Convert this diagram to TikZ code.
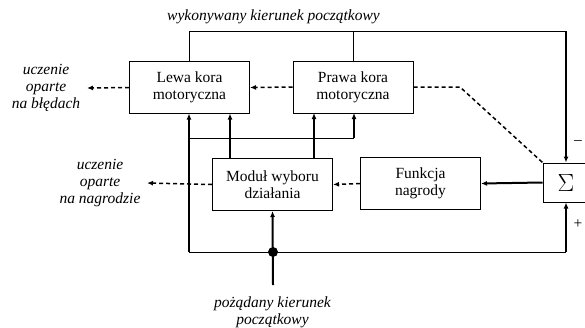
\documentclass[tikz,border=0pt]{standalone}
\usepackage{fontspec}
\setmainfont{Liberation Serif}
\usetikzlibrary{arrows.meta}
\begin{document}
\begin{tikzpicture}[x=1pt,y=-1pt,
  font=\fontsize{15.5}{17}\selectfont,
  blk/.style={draw,line width=1pt,minimum width=120pt,minimum height=52pt,align=center,inner sep=1pt},
  lbl/.style={font=\fontsize{15.5}{17}\itshape,align=center,inner sep=0pt},
  thin/.style={line width=1pt},
  thick/.style={line width=2pt},
  arr/.style={-{Latex[length=6pt,width=5pt]}},
  dsh/.style={line width=1.5pt,dash pattern=on 4pt off 3pt,-{Latex[length=6pt,width=5pt]}}]
\useasboundingbox (0,0) rectangle (585,327);

\node[blk] (lewa) at (189.5,87.5) {Lewa kora\\motoryczna};
\node[blk] (prawa) at (353,87) {Prawa kora\\motoryczna};
\node[blk] (modul) at (272.5,184.5) {Moduł wyboru\\działania};
\node[blk] (funk) at (420.5,183.5) {Funkcja\\nagrody};
\node[draw,line width=1pt,minimum width=46pt,minimum height=39pt,inner sep=0pt,font=\fontsize{26}{28}\selectfont] (sum) at (566,182.5) {$\Sigma$};

\node[lbl] (ltop) at (273.5,17) {wykonywany kierunek początkowy};
\node[lbl] (lerr) at (46,88) {uczenie\\oparte\\na błędach};
\node[lbl] (lnag) at (100,183) {uczenie\\oparte\\na nagrodzie};
\node[lbl] (lbot) at (272.5,312) {pożądany kierunek\\początkowy};
\node (minus) at (578,142) {--};
\node (plus) at (578,224) {+};

\coordinate (erre) at (87,88);
\coordinate (nage) at (147,183);
\coordinate (dot) at (273,252);
\coordinate (dotb) at (273,285);

% top feedback
\draw[thin] (lewa.north) |- (566,31);
\draw[thin] (prawa.north) -- (353,31);
\draw[thick,arr] (566,31) -- (sum.north);

% dashed
\draw[dsh] (lewa.west) -- (erre);
\draw[dsh] (prawa.west) -- (lewa.east);
\draw[line width=1.5pt,dash pattern=on 4pt off 3pt] (prawa.east) -- (460,87) -- (sum.north west);
\draw[dsh] (funk.west) -- (modul.east);
\draw[dsh] (modul.west) -- (nage);

% reward
\draw[thick,arr] (sum.west) -- (funk.east);

% bottom loop
\draw[thick,arr] (189,252) -- (189,113.5);
\draw[thin] (189,252) -- (566,252);
\draw[thick,arr] (566,252) -- (sum.south);
\draw[thin] (189,138) -- (354,138);
\draw[thick,arr] (354,138) -- (354,113);
\draw[thick,arr] (230,158.5) -- (230,113.5);
\draw[thick,arr] (314,158.5) -- (314,113);
\fill (dot) circle (5pt);
\draw[thick,arr] (dotb) -- (modul.south);
\end{tikzpicture}
\end{document}
